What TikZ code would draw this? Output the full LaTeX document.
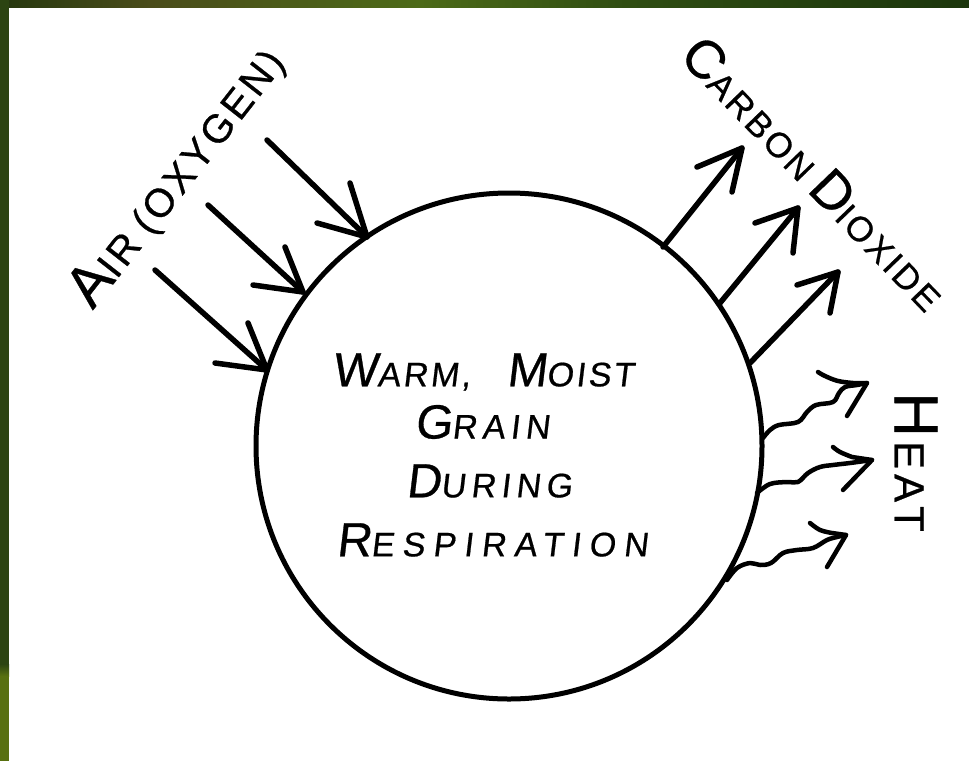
\documentclass[tikz,border=0pt]{standalone}
\usepackage{fontspec}
\newfontfamily\hand[FakeSlant=0.12,LetterSpace=8,FakeBold=0.6]{Liberation Sans}
\newfontfamily\handwide[FakeSlant=0.12,LetterSpace=16,FakeBold=0.6]{Liberation Sans}
\newfontfamily\handwider[FakeSlant=0.12,LetterSpace=24,FakeBold=0.6]{Liberation Sans}
\newfontfamily\handup[LetterSpace=8,FakeBold=0.6]{Liberation Sans}
\newcommand\hwB[1]{{\fontsize{48}{52}\selectfont #1}}
\newcommand\hwS[1]{{\fontsize{34}{40}\selectfont #1}}
\definecolor{barA}{HTML}{26380F}
\definecolor{barB}{HTML}{4A4C1A}
\definecolor{barC}{HTML}{4C6A18}
\definecolor{barD}{HTML}{2E4C12}
\definecolor{barE}{HTML}{1C360C}
\definecolor{sideDark}{HTML}{2C4412}
\definecolor{sideLight}{HTML}{587010}
\begin{document}
\begin{tikzpicture}[x=1pt,y=-1pt,line cap=round,line join=round,
  shaft/.style={line width=5.5pt},
  head/.style={line width=5.5pt},
  wave/.style={line width=4.5pt},
  lbl/.style={inner sep=0pt,font=\handup},
  mid/.style={inner sep=0pt,font=\hand}]
\useasboundingbox (0,0) rectangle (969,761);
\fill[white] (0,0) rectangle (969,761);
% frame
\shade[left color=barA,right color=barB] (0,0) rectangle (150,7);
\shade[left color=barB,right color=barC] (150,0) rectangle (420,7);
\shade[left color=barC,right color=barD] (420,0) rectangle (640,7);
\shade[left color=barD,right color=barE] (640,0) rectangle (969,7);
\fill[sideDark] (0,0) rectangle (9,664);
\shade[top color=sideDark,bottom color=sideLight] (0,664) rectangle (9,676);
\fill[sideLight] (0,676) rectangle (9,761);
% grain
\node[draw,circle,minimum size=506pt,line width=5pt,inner sep=0pt] (grain) at (509,446) {};
\node[mid] (t1) at (483,372) {\hwB{W}\hwS{ARM,}\hspace{36pt}\hwB{M}\hwS{OIST}};
\node[mid,font=\handwide] (t2) at (482,422) {\hwB{G}\hwS{RAIN}};
\node[mid,font=\handwide] (t3) at (489,481) {\hwB{D}\hwS{URING}};
\node[mid,font=\handwider] (t4) at (492,540) {\hwB{R}\hwS{ESPIRATION}};
% labels
\node[lbl,rotate=52] (air) at (177,177) {{\fontsize{58}{60}\selectfont A}{\fontsize{40}{44}\selectfont IR\hspace{12pt}(OXYGEN)}};
\node[lbl,rotate=-46] (co2) at (815,173) {{\fontsize{54}{58}\selectfont C}{\fontsize{35}{40}\selectfont ARBON}\hspace{10pt}{\fontsize{54}{58}\selectfont D}{\fontsize{35}{40}\selectfont IOXIDE}};
\node[lbl,rotate=-90] (heat) at (916,462) {{\fontsize{62}{64}\selectfont H}\hspace{4pt}{\fontsize{42}{44}\selectfont E\hspace{5pt}A\hspace{4pt}T}};
% incoming air arrows
\coordinate (a1s) at (155,270); \coordinate (a1t) at (267,370);
\coordinate (a2s) at (208,205); \coordinate (a2t) at (303,292);
\coordinate (a3s) at (267,140); \coordinate (a3t) at (367,237);
\draw[shaft] (a1s) -- (a1t);
\draw[head] (248,323) -- (a1t) -- (215,363);
\draw[shaft] (a2s) -- (a2t);
\draw[head] (285,247) -- (a2t) -- (253,285);
\draw[shaft] (a3s) -- (a3t);
\draw[head] (350,183) -- (a3t) -- (317,223);
% outgoing CO2 arrows
\coordinate (c1s) at (663,247); \coordinate (c1t) at (742,148);
\coordinate (c2s) at (720,303); \coordinate (c2t) at (798,208);
\coordinate (c3s) at (750,363); \coordinate (c3t) at (838,272);
\draw[shaft] (c1s) -- (c1t);
\draw[head] (697,167) -- (c1t) -- (732,192);
\draw[shaft] (c2s) -- (c2t);
\draw[head] (755,223) -- (c2t) -- (793,253);
\draw[shaft] (c3s) -- (c3t);
\draw[head] (797,285) -- (c3t) -- (830,313);
% heat waves
\coordinate (h1t) at (867,383);
\coordinate (h2t) at (872,460);
\coordinate (h3t) at (846,535);
\draw[wave] plot[smooth,tension=0.6] coordinates {(763,438) (770,430) (779,425) (798,422) (807,412) (816,405) (833,402) (839,393) (845,387) (857,385) (867,383)};
\draw[wave] plot[smooth,tension=0.6] coordinates {(818,372) (825,376) (838,381) (853,383)} -- (h1t) -- (847,416);
\draw[wave] plot[smooth,tension=0.6] coordinates {(757,493) (770,484) (787,482) (798,482) (808,473) (820,467) (833,465) (850,463) (872,460)};
\draw[wave] plot[smooth,tension=0.6] coordinates {(833,447) (840,452) (852,457)} -- (h2t) -- (843,490);
\draw[wave] plot[smooth,tension=0.6] coordinates {(727,580) (737,568) (750,563) (760,565) (771,563) (783,553) (797,550) (813,548) (827,540) (837,537) (846,535)};
\draw[wave] plot[smooth,tension=0.6] coordinates {(810,523) (820,530) (832,533)} -- (h3t) -- (827,567);
\end{tikzpicture}
\end{document}
